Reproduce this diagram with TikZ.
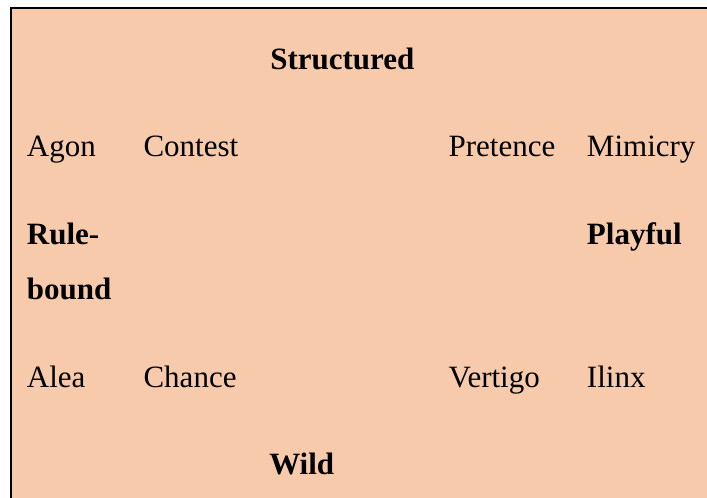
\documentclass[tikz,border=0pt]{standalone}
\usepackage{fontspec}
\setmainfont{Liberation Serif}
\definecolor{peach}{HTML}{F7CAAC}
\begin{document}
\begin{tikzpicture}[x=0.75pt,y=-0.75pt,
  lbl/.style={anchor=base west,inner sep=0pt,font=\fontsize{23.25}{28}\selectfont},
  blbl/.style={lbl,font=\fontsize{23.25}{28}\selectfont\bfseries}]
\clip (0,0) rectangle (707,498);
\useasboundingbox (0,0) rectangle (707,498);
\draw[fill=peach,line width=1.5pt] (11,8) rectangle (730,520);
\node[blbl] (structured) at (270,70) {Structured};
\node[lbl] (agon) at (26.7,157) {Agon};
\node[lbl] (contest) at (143.3,157) {Contest};
\node[lbl] (pretence) at (448.3,157) {Pretence};
\node[lbl] (mimicry) at (586.7,157) {Mimicry};
\node[blbl] (rule) at (26.7,245) {Rule-};
\node[blbl] (bound) at (26.7,300) {bound};
\node[blbl] (playful) at (586.7,245) {Playful};
\node[lbl] (alea) at (26.7,387.3) {Alea};
\node[lbl] (chance) at (143.3,387.3) {Chance};
\node[lbl] (vertigo) at (448.3,387.3) {Vertigo};
\node[lbl] (ilinx) at (586.7,387.3) {Ilinx};
\node[blbl] (wild) at (269,475) {Wild};
\end{tikzpicture}
\end{document}
